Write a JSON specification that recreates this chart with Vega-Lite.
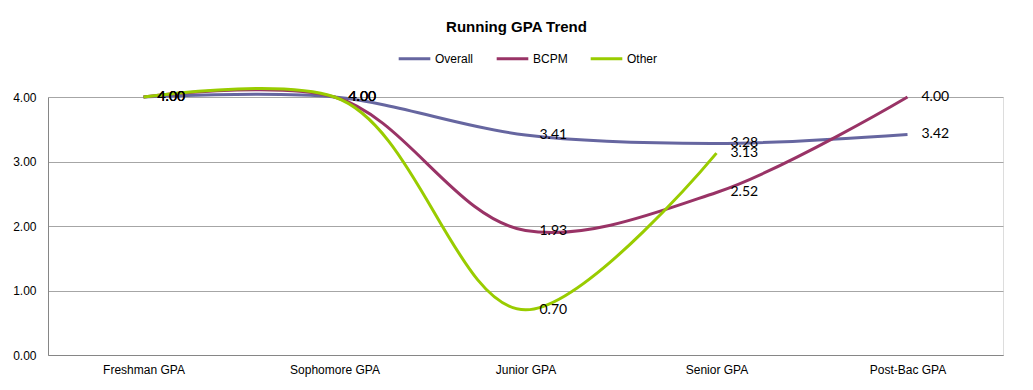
{
  "$schema": "https://vega.github.io/schema/vega-lite/v6.json",
  "width": 955,
  "height": 258,
  "autosize": {"type": "none"},
  "padding": {"left": 48, "top": 97, "right": 30, "bottom": 35},
  "background": "white",
  "title": {
    "text": "Running GPA Trend",
    "font": "Liberation Sans",
    "fontSize": 15,
    "fontWeight": "bold",
    "color": "black",
    "anchor": "middle",
    "frame": "group",
    "offset": 6,
    "dx": -9
  },
  "data": {
    "values": [
      {"category": "Freshman GPA", "series": "Overall", "value": 4.00},
      {"category": "Sophomore GPA", "series": "Overall", "value": 4.00},
      {"category": "Junior GPA", "series": "Overall", "value": 3.41},
      {"category": "Senior GPA", "series": "Overall", "value": 3.28},
      {"category": "Post-Bac GPA", "series": "Overall", "value": 3.42},
      {"category": "Freshman GPA", "series": "BCPM", "value": 4.00},
      {"category": "Sophomore GPA", "series": "BCPM", "value": 4.00},
      {"category": "Junior GPA", "series": "BCPM", "value": 1.93},
      {"category": "Senior GPA", "series": "BCPM", "value": 2.52},
      {"category": "Post-Bac GPA", "series": "BCPM", "value": 4.00},
      {"category": "Freshman GPA", "series": "Other", "value": 4.00},
      {"category": "Sophomore GPA", "series": "Other", "value": 4.00},
      {"category": "Junior GPA", "series": "Other", "value": 0.70},
      {"category": "Senior GPA", "series": "Other", "value": 3.13}
    ]
  },
  "encoding": {
    "x": {
      "field": "category",
      "type": "ordinal",
      "sort": ["Freshman GPA", "Sophomore GPA", "Junior GPA", "Senior GPA", "Post-Bac GPA"],
      "scale": {"type": "point", "padding": 0.5},
      "axis": {
        "title": null,
        "labelAngle": 0,
        "ticks": false,
        "domainColor": "#868686",
        "labelFont": "Liberation Sans",
        "labelFontSize": 12,
        "labelColor": "black",
        "labelPadding": 9,
        "grid": false
      }
    },
    "y": {
      "field": "value",
      "type": "quantitative",
      "scale": {"domain": [0, 4], "nice": false, "zero": true},
      "axis": {
        "title": null,
        "values": [0, 1, 2, 3, 4],
        "format": ".2f",
        "ticks": false,
        "domainColor": "#868686",
        "gridColor": "#A6A6A6",
        "labelFont": "Liberation Sans",
        "labelFontSize": 12,
        "labelColor": "black",
        "labelPadding": 12
      }
    }
  },
  "layer": [
    {
      "mark": {"type": "line", "interpolate": "catmull-rom", "tension": 1, "strokeWidth": 3},
      "encoding": {
        "color": {
          "field": "series",
          "type": "nominal",
          "scale": {"domain": ["Overall", "BCPM", "Other"], "range": ["#6666A0", "#993366", "#99CC00"]},
          "legend": {
            "title": null,
            "orient": "none",
            "legendX": 349,
            "legendY": -56,
            "direction": "horizontal",
            "symbolType": "stroke",
            "symbolSize": 1000,
            "symbolStrokeWidth": 3,
            "labelFont": "Liberation Sans",
            "labelFontSize": 12,
            "labelColor": "black",
            "labelOffset": 3,
            "columnPadding": 16
          }
        }
      }
    },
    {
      "mark": {"type": "text", "align": "left", "baseline": "middle", "dx": 14, "font": "Lato", "fontSize": 14, "color": "black"},
      "encoding": {
        "text": {"field": "value", "type": "quantitative", "format": ".2f"}
      }
    }
  ]
}
